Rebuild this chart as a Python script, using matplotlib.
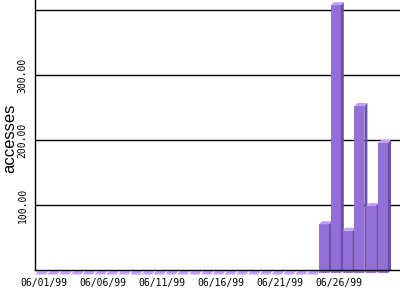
import matplotlib
matplotlib.use("Agg")
import matplotlib.pyplot as plt
from matplotlib.patches import Polygon, Rectangle

days = [f"06/{d:02d}/99" for d in range(1, 31)]
accesses = [0]*24 + [75, 412, 65, 257, 103, 200]
tick_days = ["06/01/99", "06/06/99", "06/11/99", "06/16/99", "06/21/99", "06/26/99"]
y_ticks = [100, 200, 300]
y_grid = [100, 200, 300, 400]

front_c = "#9370d8"
side_c = "#6a50a8"
top_c = "#c09cff"

fig = plt.figure(figsize=(4, 3), dpi=100)
ax = fig.add_axes([35/400, 30/300, 365/400, 270/300])
px_x = 11.8          # pixels per day
px_y = 0.65          # pixels per unit
ax.set_xlim(-5.8/px_x, 359.2/px_x)
ax.set_ylim(0, 270/px_y)

dx = 3/px_x
dy = 3/px_y
w = 10/px_x
for i, h in enumerate(accesses):
    x0 = i - w/2
    x1 = i + w/2
    if h > 0:
        ax.add_patch(Rectangle((x0, -dy), w, h, facecolor=front_c, edgecolor="none", zorder=3, clip_on=False))
        ax.add_patch(Polygon([(x1, -dy), (x1+dx, 0), (x1+dx, h), (x1, h-dy)], closed=True,
                             facecolor=side_c, edgecolor="none", zorder=3, clip_on=False))
        ax.add_patch(Polygon([(x0, h-dy), (x1, h-dy), (x1+dx, h), (x0+dx, h)], closed=True,
                             facecolor=top_c, edgecolor="none", zorder=3, clip_on=False))
    else:
        d4 = 4.5/px_y
        ax.add_patch(Polygon([(x0, -d4), (x1, -d4), (x1+dx, 0), (x0+dx, 0)], closed=True,
                             facecolor=top_c, edgecolor="none", zorder=3, clip_on=False))

for g in y_grid:
    ax.axhline(g, color="black", lw=1, zorder=1)

ax.spines["top"].set_visible(False)
ax.spines["right"].set_visible(False)
ax.spines["left"].set_zorder(5)
ax.spines["bottom"].set_zorder(5)
ax.spines["left"].set_linewidth(1)
ax.spines["bottom"].set_linewidth(1)

tick_pos = [days.index(d) + 3/px_x for d in tick_days]
ax.set_xticks(tick_pos)
ax.set_xticklabels(tick_days, family="DejaVu Sans Mono", fontsize=7)
ax.set_yticks(y_ticks)
ax.set_yticklabels([f"{v:.2f}" for v in y_ticks], family="DejaVu Sans Mono", fontsize=7,
                   rotation=90, va="center")
ax.tick_params(axis="x", length=0, pad=5.5)
ax.tick_params(axis="y", length=0, pad=5.5)

fig.text(10/400, 1-138/300, "accesses", rotation=90, ha="center", va="center",
         family="Liberation Sans", fontsize=12)

fig.savefig("out.png", dpi=100)
